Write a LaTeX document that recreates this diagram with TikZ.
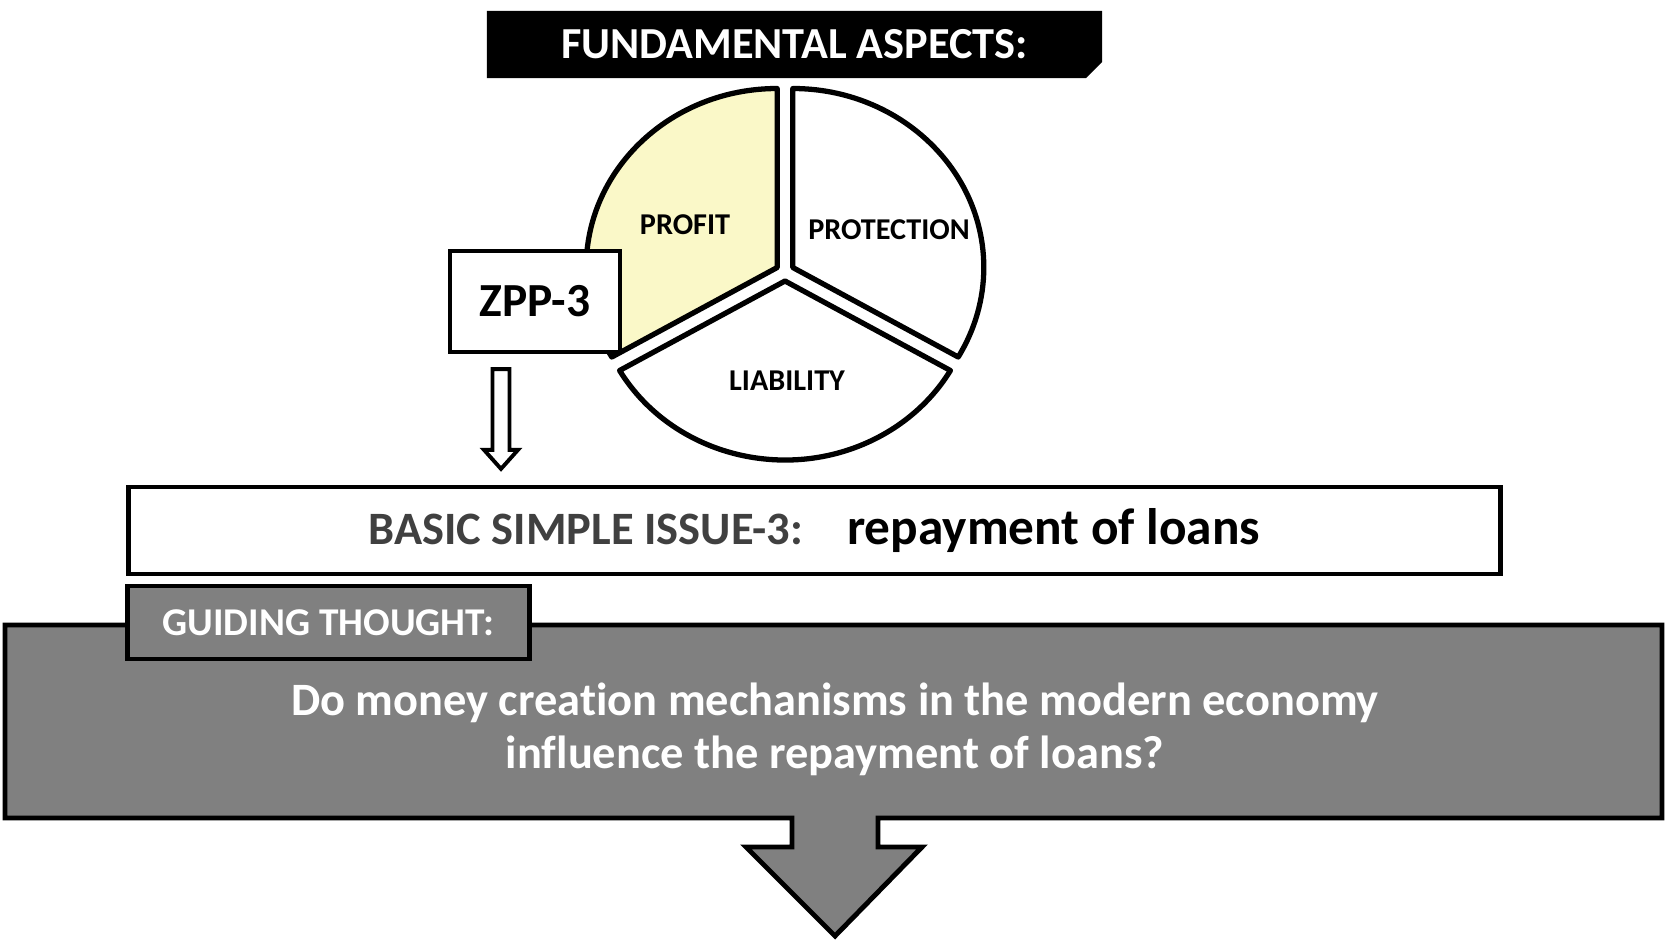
\documentclass[tikz,border=0pt]{standalone}
\usepackage{fontspec}
\setmainfont{Carlito}[Ligatures={NoCommon}]
\usetikzlibrary{shapes.misc,calc}

\definecolor{profityellow}{RGB}{250,248,200}
\definecolor{boxgray}{RGB}{128,128,128}
\definecolor{issuegray}{RGB}{64,64,64}

\begin{document}
\begin{tikzpicture}[x=0.01cm,y=0.01cm,
  slice/.style={line width=1.5pt,line join=round},
  slicetext/.style={font=\fontsize{8.6}{10}\selectfont\bfseries},
  frame/.style={draw,line width=1.2pt,fill=white,inner sep=0pt},
  graybox/.style={draw,line width=1.4pt,fill=boxgray},
  hollow/.style={draw,line width=1.1pt,fill=white,line join=miter}]
  \useasboundingbox (0,0) rectangle (1667,944);

  %title
  \node[chamfered rectangle,chamfered rectangle corners=south east,
    chamfered rectangle xsep=0.08cm,chamfered rectangle ysep=0.08cm,
    fill=black,minimum width=6.15cm,minimum height=0.67cm,inner sep=0pt,
    text=white,font=\fontsize{12.6}{15}\selectfont\bfseries] (title) at (794.5,899.5) {FUNDAMENTAL ASPECTS:};

  %pie
  \draw[slice,fill=profityellow] (777.2,676.5) -- ++(0,179) arc[start angle=90,end angle=210,x radius=191,y radius=179] -- cycle;
  \draw[slice,fill=white] (792.8,676.5) -- ++(0,179) arc[start angle=90,end angle=-30,x radius=191,y radius=179] -- cycle;
  \draw[slice,fill=white] (785,663) -- ++(-165.4,-89.5) arc[start angle=210,end angle=330,x radius=191,y radius=179] -- cycle;

  \node[slicetext] (profit) at (685,719) {PROFIT};
  \node[slicetext] (protection) at (889,714) {PROTECTION};
  \node[slicetext] (liability) at (787,563) {LIABILITY};

  %zpp box
  \node[frame,minimum width=1.70cm,minimum height=1.01cm,
    font=\fontsize{13.5}{16}\selectfont\bfseries] (zpp) at (535,642.5) {ZPP-3};

  %issue box
  \node[frame,minimum width=13.71cm,minimum height=0.87cm] (issue) at (814.5,413.5)
    {{\color{issuegray}\fontsize{13.2}{16}\selectfont\bfseries BASIC SIMPLE ISSUE-3:}\hspace{0.44cm}{\fontsize{14.6}{17}\selectfont\bfseries repayment of loans}};

  %arrow zpp -> issue
  \coordinate (zpptop) at ($(zpp.south)+(-34,-15)$);
  \coordinate (zpptip) at ($(zpptop |- issue.north)+(0,16)$);
  \draw[hollow] ($(zpptop)+(-8.5,0)$) -- ($(zpptop)+(8.5,0)$) -- ($(zpptip)+(8.5,19)$)
    -- ($(zpptip)+(17,19)$) -- (zpptip) -- ($(zpptip)+(-17,19)$) -- ($(zpptip)+(-8.5,19)$) -- cycle;

  %guiding thought
  \draw[graybox] (5,319) -- (1662,319) -- (1662,126) -- (878,126) -- (878,97) -- (922,97)
    -- (835,8) -- (746,97) -- (792,97) -- (792,126) -- (5,126) -- cycle;
  \node[graybox,minimum width=4.01cm,minimum height=0.73cm,inner sep=0pt,text=white,
    font=\fontsize{11.2}{13}\selectfont\bfseries] (guide) at (328.5,321.5) {GUIDING THOUGHT:};
  \node[text=white,align=center,font=\fontsize{13.2}{15.1}\selectfont\bfseries] (question) at (835,214.5)
    {Do money creation mechanisms in the modern economy\\influence the repayment of loans?};

\end{tikzpicture}
\end{document}
